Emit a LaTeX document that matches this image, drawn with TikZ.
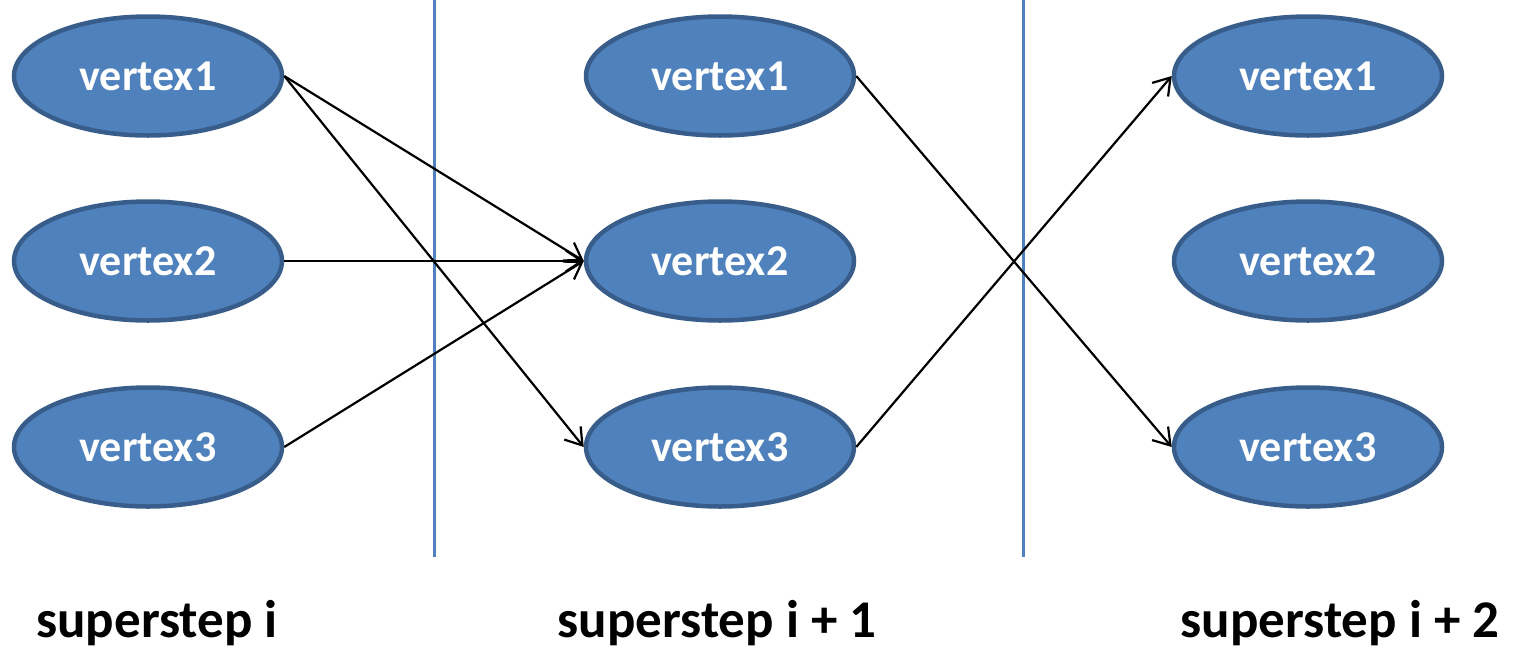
\documentclass[tikz,border=0pt]{standalone}
\usepackage{fontspec}
\setmainfont{Carlito}
\usetikzlibrary{arrows.meta,shapes.geometric}
\definecolor{vfill}{HTML}{4F81BD}
\definecolor{vline}{HTML}{385D8A}
\tikzstyle{vertex} = [ellipse, minimum width=268pt, minimum height=119pt, inner sep=0pt, line width=4.5pt, draw=vline, fill=vfill, text=white, font=\fontsize{44}{50}\selectfont\bfseries]
\tikzstyle{arrow} = [line width=2.2pt, -{Straight Barb[length=16pt,width=21pt]}]
\tikzstyle{steplabel} = [anchor=base, font=\fontsize{53}{60}\selectfont\bfseries]
\begin{document}
\begin{tikzpicture}[x=1pt,y=-1pt]
\useasboundingbox (0,0) rectangle (1516,659);
% separators
\draw[vfill, line width=3pt] (434,0)--(434,557);
\draw[vfill, line width=3pt] (1023,0)--(1023,557);
% superstep i
\node (a1) at (148,76) [vertex] {vertex1};
\node (a2) at (148,261) [vertex] {vertex2};
\node (a3) at (148,447) [vertex] {vertex3};
% superstep i+1
\node (b1) at (720,76) [vertex] {vertex1};
\node (b2) at (720,261) [vertex] {vertex2};
\node (b3) at (720,447) [vertex] {vertex3};
% superstep i+2
\node (c1) at (1308,76) [vertex] {vertex1};
\node (c2) at (1308,261) [vertex] {vertex2};
\node (c3) at (1308,447) [vertex] {vertex3};
% messages
\draw[arrow] (a1.east)--(b2.west);
\draw[arrow] (a1.east)--(b3.west);
\draw[arrow] (a2.east)--(b2.west);
\draw[arrow] (a3.east)--(b2.west);
\draw[arrow] (b1.east)--(c3.west);
\draw[arrow] (b3.east)--(c1.west);
\node (s1) at (157,637) [steplabel] {superstep i};
\node (s2) at (717,637) [steplabel] {superstep i + 1};
\node (s3) at (1340,637) [steplabel] {superstep i + 2};
\end{tikzpicture}
\end{document}
